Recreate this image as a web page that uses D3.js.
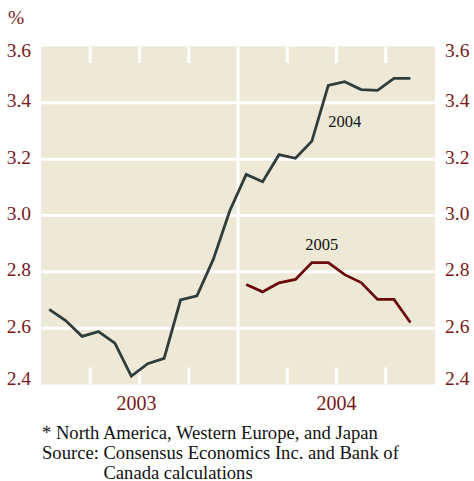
<!DOCTYPE html>
<html>
<head>
<meta charset="utf-8">
<script src="https://cdn.jsdelivr.net/npm/d3@7"></script>
<style>
  body { margin: 0; background: #fff; }
  svg { display: block; }
  text { font-family: "Liberation Serif", "Times New Roman", serif; }
</style>
</head>
<body>
<div id="chart"></div>
<script>
// monthly survey values, Jan 2003 .. Nov 2004
var forecast2004 = [2.667, 2.627, 2.571, 2.588, 2.547, 2.430, 2.474, 2.493, 2.700, 2.715, 2.845, 3.017,
                    3.146, 3.120, 3.216, 3.203, 3.264, 3.462, 3.475, 3.447, 3.444, 3.487, 3.487];
// Jan 2004 .. Nov 2004
var forecast2005 = [2.755, 2.729, 2.761, 2.773, 2.833, 2.833, 2.790, 2.762, 2.702, 2.702, 2.620];
var start2005 = 12;

var years = ["2003", "2004"];
var yTicks = [2.4, 2.6, 2.8, 3.0, 3.2, 3.4, 3.6];
var seriesLabels = [
  { text: "2004", month: 18.5, value: 3.313 },
  { text: "2005", month: 17.1, value: 2.876 }
];
var notes = ["* North America, Western Europe, and Japan",
             "Source: Consensus Economics Inc. and Bank of",
             "Canada calculations"];

var W = 474, H = 481;
var red = "#7a1818";
var bg = "#eee9d7";

var svg = d3.select("#chart").append("svg")
  .attr("width", W).attr("height", H);

var x = d3.scaleLinear().domain([0, 24]).range([41, 435]);
var y = d3.scaleLinear().domain([2.4, 3.6]).range([384.5, 46.5]);

// plot background
svg.append("rect")
  .attr("x", x(0)).attr("y", y(3.6))
  .attr("width", x(24) - x(0)).attr("height", y(2.4) - y(3.6))
  .attr("fill", bg);

// horizontal grid
svg.append("g")
  .selectAll("line")
  .data(yTicks.slice(1, -1))
  .enter().append("line")
  .attr("x1", x(0)).attr("x2", x(24))
  .attr("y1", d => y(d)).attr("y2", d => y(d))
  .attr("stroke", "#fff").attr("stroke-width", 3);

// year divider
svg.append("line")
  .attr("x1", x(12)).attr("x2", x(12))
  .attr("y1", y(3.6)).attr("y2", y(2.4))
  .attr("stroke", "#fff").attr("stroke-width", 3);

// quarter ticks, top and bottom
var quarters = d3.range(3, 24, 3).filter(q => q != 12);
var qt = svg.append("g");
qt.selectAll("line.top").data(quarters).enter().append("line")
  .attr("class", "top")
  .attr("x1", d => x(d)).attr("x2", d => x(d))
  .attr("y1", y(3.6)).attr("y2", y(3.6) + 16.5)
  .attr("stroke", "#fff").attr("stroke-width", 3);
qt.selectAll("line.bot").data(quarters).enter().append("line")
  .attr("class", "bot")
  .attr("x1", d => x(d)).attr("x2", d => x(d))
  .attr("y1", y(2.4)).attr("y2", y(2.4) - 17)
  .attr("stroke", "#fff").attr("stroke-width", 3);

// lines
var line = d3.line()
  .x(d => x(d.m + 0.5))
  .y(d => y(d.v));

svg.append("path")
  .datum(forecast2004.map((v, i) => ({ m: i, v: v })))
  .attr("fill", "none")
  .attr("stroke", "#2f3d3a")
  .attr("stroke-width", 2.8)
  .attr("d", line);

svg.append("path")
  .datum(forecast2005.map((v, i) => ({ m: i + start2005, v: v })))
  .attr("fill", "none")
  .attr("stroke", "#6b0a0c")
  .attr("stroke-width", 2.8)
  .attr("d", line);

svg.append("g")
  .selectAll("text")
  .data(seriesLabels)
  .enter().append("text")
  .attr("x", d => x(d.month))
  .attr("y", d => y(d.value))
  .attr("text-anchor", "middle")
  .attr("font-size", 16.5)
  .attr("fill", "#111")
  .text(d => d.text);

// y tick labels on both sides
function tickDy(d) {
  if (d == 3.6) return 10.5;
  if (d == 2.4) return 0.5;
  return 4.5;
}
var fmt = d3.format(".1f");
var yl = svg.append("g").attr("fill", red).attr("font-size", 19.5);
yl.selectAll("text.l").data(yTicks).enter().append("text")
  .attr("class", "l")
  .attr("x", x(0) - 10)
  .attr("y", d => y(d) + tickDy(d))
  .attr("text-anchor", "end")
  .text(fmt);
yl.selectAll("text.r").data(yTicks).enter().append("text")
  .attr("class", "r")
  .attr("x", x(24) + 10)
  .attr("y", d => y(d) + tickDy(d))
  .attr("text-anchor", "start")
  .text(fmt);

svg.append("text")
  .attr("x", 8).attr("y", 24)
  .attr("fill", red).attr("font-size", 19.5)
  .text("%");

// year labels
svg.append("g")
  .selectAll("text")
  .data(years)
  .enter().append("text")
  .attr("x", (d, i) => (x(i * 12) + x(i * 12 + 12)) / 2 - (i == 0 ? 3 : 0))
  .attr("y", 410)
  .attr("text-anchor", "middle")
  .attr("fill", red)
  .attr("font-size", 20)
  .text(d => d);

// footnote
var fn = svg.append("g").attr("font-size", 18.6).attr("fill", "#111");
fn.append("text").attr("x", 42).attr("y", 438.5).text(notes[0]);
fn.append("text").attr("x", 42).attr("y", 458.5).text(notes[1]);
var probe = fn.append("text").attr("x", 0).attr("y", -50).text("Source:\u00a0");
var indent = probe.node().getComputedTextLength();
probe.remove();
fn.append("text").attr("x", 42 + indent).attr("y", 478.5).text(notes[2]);
</script>
</body>
</html>
